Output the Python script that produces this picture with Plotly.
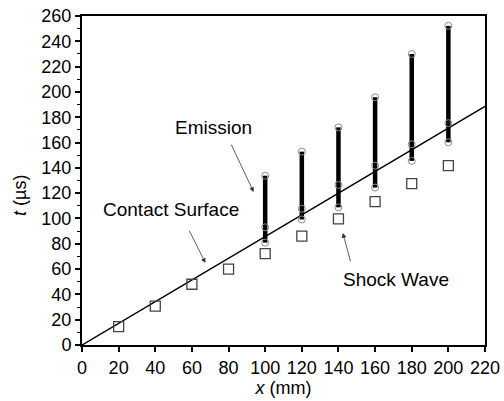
import plotly.graph_objects as go

# Shock wave (open squares)
shock_x = [20, 40, 60, 80, 100, 120, 140, 160, 180, 200]
shock_t = [14.5, 30.8, 48.0, 60.0, 72.2, 86.0, 99.6, 113.3, 127.5, 141.7]

# Emission bars: start (bottom), middle, end (top)
emis_x = [100, 120, 140, 160, 180, 200]
emis_lo = [80.9, 99.2, 108.8, 124.4, 145.5, 160.2]
emis_mid = [93.0, 107.7, 126.5, 141.7, 158.6, 175.3]
emis_hi = [133.8, 152.8, 172.0, 195.8, 230.0, 252.2]

# Contact surface line
contact_x = [0, 220]
contact_t = [0, 188.5]

FONT = "Liberation Sans, Arial, sans-serif"

fig = go.Figure()

fig.add_trace(go.Scatter(x=contact_x, y=contact_t, mode="lines",
                         line=dict(color="black", width=1.5),
                         showlegend=False, hoverinfo="skip"))

bx, by = [], []
for x, lo, hi in zip(emis_x, emis_lo, emis_hi):
    bx += [x, x, None]
    by += [lo, hi, None]
fig.add_trace(go.Scatter(x=bx, y=by, mode="lines",
                         line=dict(color="black", width=4.5),
                         showlegend=False, hoverinfo="skip"))

cx, cy = [], []
for x, lo, mid, hi in zip(emis_x, emis_lo, emis_mid, emis_hi):
    cx += [x, x, x]
    cy += [lo, mid, hi]
fig.add_trace(go.Scatter(x=cx, y=cy, mode="markers",
                         marker=dict(symbol="circle-open", size=7,
                                     color="#8a8a8a", line=dict(width=1)),
                         showlegend=False))

fig.add_trace(go.Scatter(x=shock_x, y=shock_t, mode="markers",
                         marker=dict(symbol="square-open", size=10,
                                     color="#444444", line=dict(width=1.3)),
                         showlegend=False))

def arrow(hx, hy, tx, ty):
    fig.add_annotation(x=hx, y=hy, ax=tx, ay=ty, xref="x", yref="y",
                       axref="x", ayref="y", text="", showarrow=True,
                       arrowhead=2, arrowsize=1.2, arrowwidth=0.8,
                       arrowcolor="#333333")

arrow(93.7, 120.9, 81.1, 159.6)
arrow(67.4, 64.8, 58.1, 91.7)
arrow(142.4, 88.5, 146.8, 64.8)

for txt, x, y in [("Emission", 71.8, 171.5),
                  ("Contact Surface", 48.6, 106.7),
                  ("Shock Wave", 171.5, 51.4)]:
    fig.add_annotation(x=x, y=y, xref="x", yref="y", text=txt,
                       showarrow=False, font=dict(family=FONT, size=19, color="black"))

# y-axis title placed as rotated annotation (sits slightly below axis centre)
fig.add_annotation(x=-0.154, y=0.456, xref="paper", yref="paper",
                   text="<i>t</i> (µs)", textangle=-90, showarrow=False,
                   xanchor="center", yanchor="middle",
                   font=dict(family=FONT, size=18, color="black"))

fig.update_layout(
    width=504, height=401,
    margin=dict(l=82, r=19, t=16, b=56),
    paper_bgcolor="white", plot_bgcolor="white",
    font=dict(family=FONT, size=18, color="black"),
    xaxis=dict(range=[0, 220], tickvals=list(range(0, 221, 20)),
               automargin=False, ticklabeloverflow="allow",
               showgrid=False, zeroline=False,
               showline=True, mirror=True, linecolor="black", linewidth=2,
               ticks="outside", ticklen=5, tickwidth=1.5, tickcolor="black",
               tickfont=dict(size=18),
               title=dict(text="<i>x</i> (mm)", font=dict(size=18), standoff=2)),
    yaxis=dict(range=[0, 260], tickvals=list(range(0, 261, 20)),
               automargin=False, ticklabeloverflow="allow",
               showgrid=False, zeroline=False,
               showline=True, mirror=True, linecolor="black", linewidth=2,
               ticks="outside", ticklen=5, tickwidth=1.5, tickcolor="black",
               minor=dict(dtick=10, ticks="outside", ticklen=3, tickcolor="black", tickwidth=1),
               tickfont=dict(size=18)),
)

fig.write_html("out.html", config={"displayModeBar": False},
               post_script="document.body.style.margin='0';")
